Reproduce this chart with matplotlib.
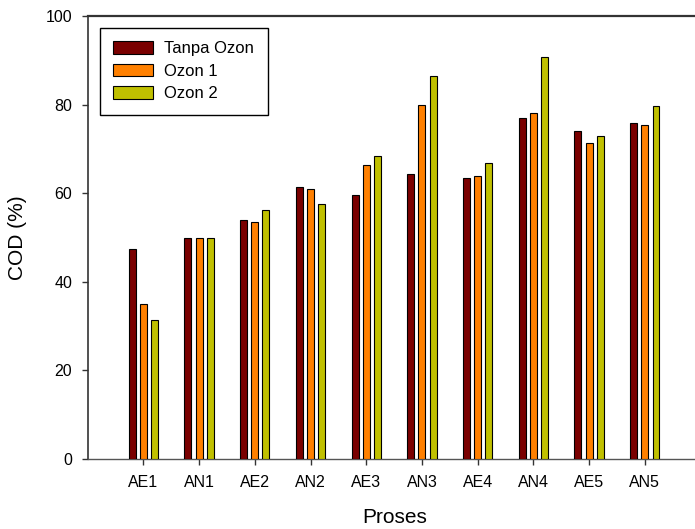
import numpy as np
import matplotlib
matplotlib.use('Agg')
import matplotlib.pyplot as plt

plt.rcParams['font.family'] = ['Liberation Sans', 'DejaVu Sans']

# data
proses = ['AE1', 'AN1', 'AE2', 'AN2', 'AE3', 'AN3', 'AE4', 'AN4', 'AE5', 'AN5']
tanpa_ozon = [47.4, 50.0, 53.9, 61.3, 59.6, 64.3, 63.4, 76.9, 74.0, 75.8]
ozon_1 = [35.1, 50.0, 53.6, 60.9, 66.4, 79.8, 63.9, 78.0, 71.3, 75.3]
ozon_2 = [31.3, 50.0, 56.1, 57.5, 68.3, 86.5, 66.8, 90.7, 72.9, 79.7]
series_names = ['Tanpa Ozon', 'Ozon 1', 'Ozon 2']
colors = ['#7a0000', '#ff8000', '#c0c000']

fig = plt.figure(figsize=(6.95, 5.29), dpi=100)
ax = fig.add_axes([88 / 695, 70 / 529, 607 / 695, 443 / 529])

x = np.arange(len(proses))
w = 0.125
step = 0.2
for i, (vals, name, c) in enumerate(zip([tanpa_ozon, ozon_1, ozon_2], series_names, colors)):
    ax.bar(x + (i - 1) * step, vals, width=w, color=c, edgecolor='black',
           linewidth=0.8, label=name, zorder=3)

ax.set_xlim(-0.993, 9.9)
ax.set_ylim(0, 100)
ax.set_yticks([0, 20, 40, 60, 80, 100])
ax.set_xticks(x)
ax.set_xticklabels(proses)
ax.tick_params(axis='both', direction='out', length=4.5, width=1, labelsize=11.5,
               color='#333333', pad=7)
ax.tick_params(axis='x', pad=7)

ax.spines['right'].set_visible(False)
ax.spines['top'].set_linewidth(1.6)
ax.spines['top'].set_color('#333333')
ax.spines['left'].set_linewidth(1.2)
ax.spines['left'].set_color('#333333')
ax.spines['bottom'].set_linewidth(1.0)
ax.spines['bottom'].set_color('#555555')

ax.set_ylabel('COD (%)', fontsize=15)
ax.set_xlabel('Proses', fontsize=15)
ax.yaxis.set_label_coords(-0.1, 0.5)
ax.xaxis.set_label_coords(0.505, -0.1106)

leg = ax.legend(loc='upper left', bbox_to_anchor=(12 / 607, (459 - 28) / 443),
                fontsize=12, frameon=True, fancybox=False, framealpha=1,
                edgecolor='black', handlelength=2.36, handleheight=0.76,
                labelspacing=0.45, borderpad=0.8, handletextpad=0.7,
                borderaxespad=0)
leg.get_frame().set_linewidth(1.0)

fig.savefig('out.png', dpi=100)
